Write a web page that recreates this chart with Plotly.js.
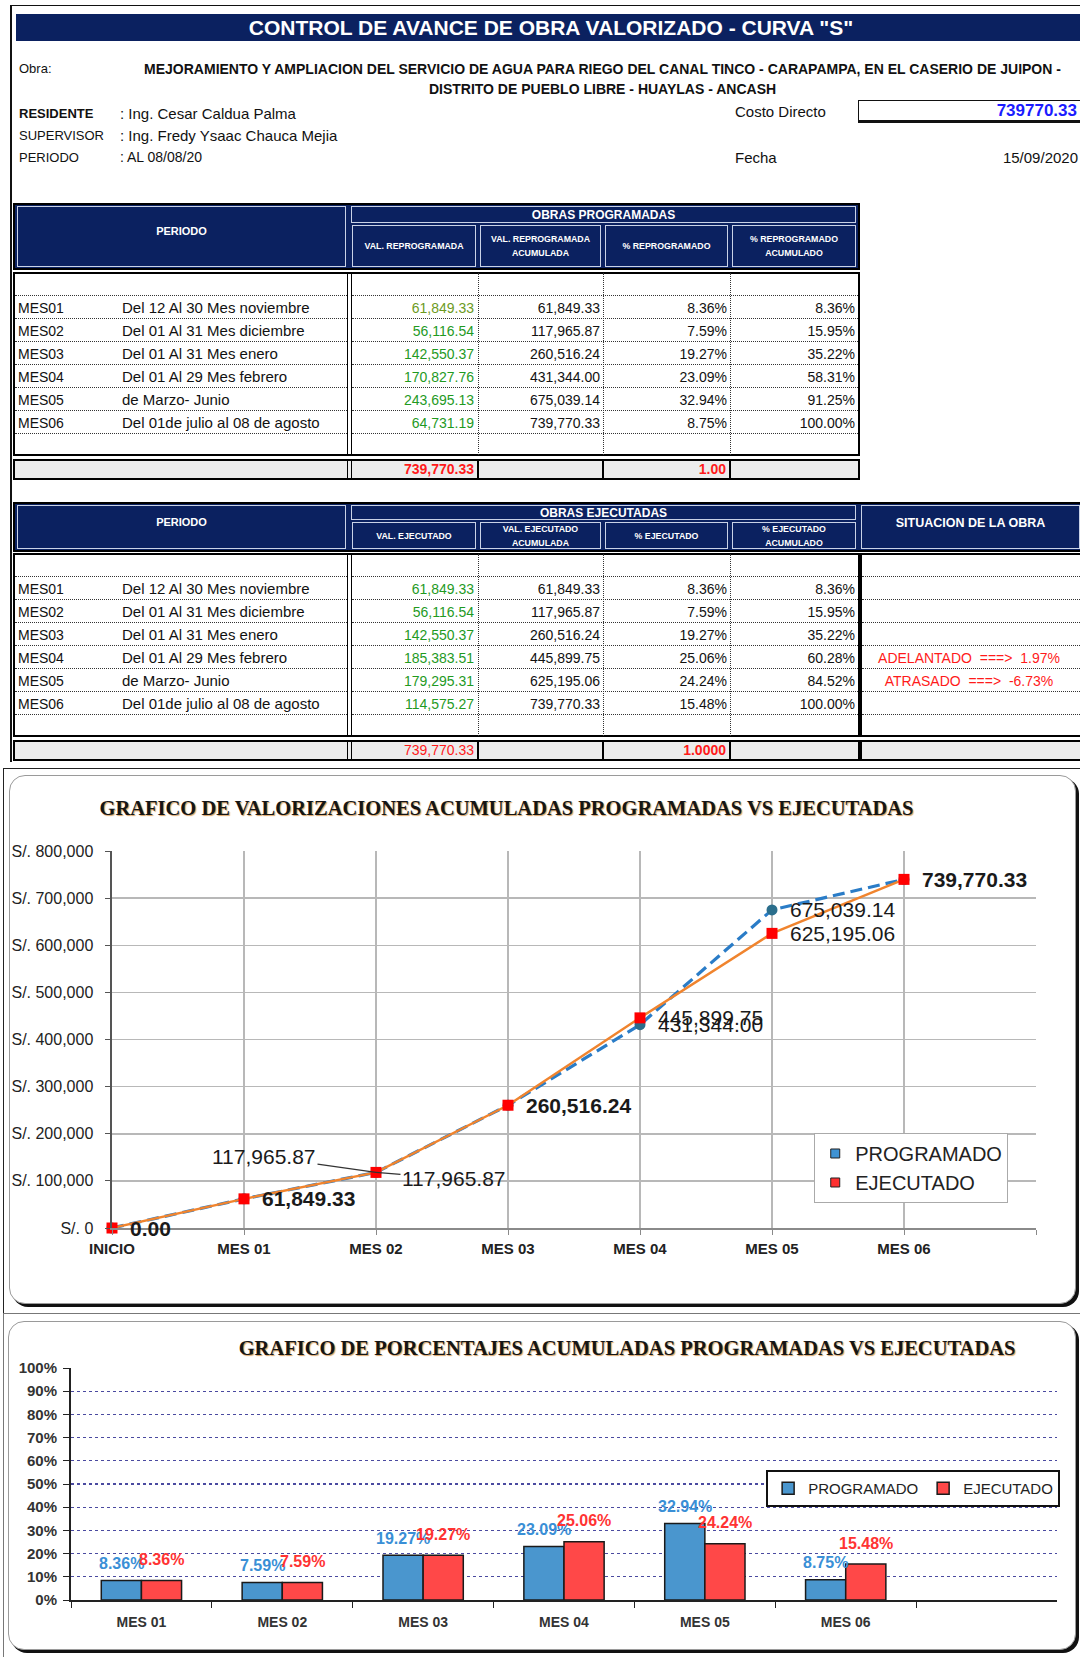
<!DOCTYPE html>
<html><head><meta charset="utf-8">
<script src="https://cdn.plot.ly/plotly-3.0.1.min.js"></script>
<style>
body{margin:0;width:1080px;height:1657px;position:relative;background:#fff;overflow:hidden;font-family:"Liberation Sans",Arial,sans-serif;color:#111;}
.a{position:absolute;box-sizing:border-box;white-space:nowrap;}
</style></head><body>
<div id="sheet"></div>
<div class="a" style="left:3px;top:768px;width:1080px;height:546px;border:1.5px solid #222;"></div>
<div class="a" style="left:9px;top:775px;width:1067px;height:529px;border:1.5px solid #9a9a9a;border-radius:16px;box-shadow:3px 3px 0 #111;background:#fff;"></div>
<div class="a" style="left:3px;top:1313px;width:1080px;height:350px;border:1.5px solid #777;"></div>
<div class="a" style="left:8px;top:1321px;width:1068px;height:329px;border:1.5px solid #9a9a9a;border-radius:16px;box-shadow:3px 3px 0 #111;background:#fff;"></div>
<div id="c1" class="a" style="left:0;top:770px;width:1080px;height:535px"></div>
<div id="c2" class="a" style="left:0;top:1315px;width:1080px;height:340px"></div>
<script>
// ---------------- DATA ----------------
const meses = ["MES01","MES02","MES03","MES04","MES05","MES06"];
const periodos = ["Del 12 Al 30 Mes noviembre","Del 01 Al 31 Mes diciembre","Del 01 Al 31 Mes enero","Del 01 Al 29 Mes febrero","de Marzo- Junio","Del 01de julio al 08 de agosto"];
const valProg = [61849.33, 56116.54, 142550.37, 170827.76, 243695.13, 64731.19];
const valProgAcum = [61849.33, 117965.87, 260516.24, 431344.00, 675039.14, 739770.33];
const pctProg = [8.36, 7.59, 19.27, 23.09, 32.94, 8.75];
const pctProgAcum = [8.36, 15.95, 35.22, 58.31, 91.25, 100.00];
const valEjec = [61849.33, 56116.54, 142550.37, 185383.51, 179295.31, 114575.27];
const valEjecAcum = [61849.33, 117965.87, 260516.24, 445899.75, 625195.06, 739770.33];
const pctEjec = [8.36, 7.59, 19.27, 25.06, 24.24, 15.48];
const pctEjecAcum = [8.36, 15.95, 35.22, 60.28, 84.52, 100.00];
const situacion = ["", "", "", "ADELANTADO  ===>  1.97%", "ATRASADO  ===>  -6.73%", ""];
const totalProg = "739,770.33", totalPctProg = "1.00", totalEjec = "739,770.33", totalPctEjec = "1.0000";
const costoDirecto = "739770.33", fecha = "15/09/2020";

const curveCats = ["INICIO","MES 01","MES 02","MES 03","MES 04","MES 05","MES 06"];
const curveProg = [0, 61849.33, 117965.87, 260516.24, 431344.00, 675039.14, 739770.33];
const curveEjec = [0, 61849.33, 117965.87, 260516.24, 445899.75, 625195.06, 739770.33];

const barCats = ["MES 01","MES 02","MES 03","MES 04","MES 05","MES 06"];
const barProg = [8.36, 7.59, 19.27, 23.09, 32.94, 8.75];
const barEjec = [8.36, 7.59, 19.27, 25.06, 24.24, 15.48];

// ---------------- SHEET (header + tables) ----------------
const NAVY = "#0b2160";
const sheet = document.getElementById('sheet');
function box(x,y,w,h,style,html){
  const d=document.createElement('div'); d.className='a';
  d.style.left=x+'px'; d.style.top=y+'px'; d.style.width=w+'px'; d.style.height=h+'px';
  Object.assign(d.style, style||{});
  if(html!=null) d.innerHTML=html;
  sheet.appendChild(d); return d;
}
const fmt = v => v.toLocaleString('en-US',{minimumFractionDigits:2,maximumFractionDigits:2});
const pf = v => v.toFixed(2)+'%';
const FN = '"Liberation Sans Narrow","Liberation Sans",Arial,sans-serif';

// outer frame
box(10,5,1075,757,{borderLeft:'2px solid #111',borderTop:'1.5px solid #111'});
// title bar
box(16,14,1070,27,{background:NAVY,color:'#fff',fontWeight:'bold',fontSize:'21px',textAlign:'center',lineHeight:'27px'},'CONTROL DE AVANCE DE OBRA VALORIZADO - CURVA "S"');
// info lines
const lab = {fontSize:'13px',fontFamily:FN};
box(19,61,60,18,Object.assign({},lab),'Obra:');
box(100,61,1005,18,{fontSize:'14px',fontWeight:'bold',textAlign:'center',fontFamily:FN},'MEJORAMIENTO Y AMPLIACION DEL SERVICIO DE AGUA PARA RIEGO DEL CANAL TINCO - CARAPAMPA, EN EL CASERIO DE JUIPON -');
box(100,81,1005,18,{fontSize:'14px',fontWeight:'bold',textAlign:'center',fontFamily:FN},'DISTRITO DE PUEBLO LIBRE - HUAYLAS - ANCASH');
box(19,106,100,18,{fontSize:'13px',fontWeight:'bold',fontFamily:FN},'RESIDENTE');
box(19,128,100,18,lab,'SUPERVISOR');
box(19,150,100,18,lab,'PERIODO');
box(120,105,320,18,{fontSize:'15px'},': Ing. Cesar Caldua Palma');
box(120,127,320,18,{fontSize:'15px'},': Ing. Fredy Ysaac Chauca Mejia');
box(120,149,320,18,{fontSize:'14px',fontFamily:FN},': AL 08/08/20');
box(735,103,140,18,{fontSize:'15px'},'Costo Directo');
box(858,100,230,23,{border:'1.5px solid #111',borderBottomWidth:'3px',color:'#1b1bff',fontWeight:'bold',fontSize:'17px',textAlign:'right',lineHeight:'19px',paddingRight:'10px'},costoDirecto);
box(735,149,120,18,{fontSize:'15px'},'Fecha');
box(930,149,148,18,{fontSize:'15px',textAlign:'right',fontFamily:FN},fecha);

const cols = [15, 350, 478, 603, 730, 858];
const hdrCell = {border:'1px solid #c9d2e6',color:'#fff',fontWeight:'bold',display:'flex',alignItems:'center',justifyContent:'center',textAlign:'center',whiteSpace:'normal'};

function header(top, split, bottom, group, subs, extra){
  const right = extra ? 1080 : cols[5];
  box(cols[0]-2, top, right-cols[0]+4, bottom-top, {background:NAVY,border:'2px solid #000'});
  box(cols[0]+2, top+3, cols[1]-cols[0]-6, bottom-top-6, Object.assign({},hdrCell,{fontSize:'11px',alignItems:'flex-start',paddingTop:(extra?10:18)+'px'}),'PERIODO');
  box(cols[1]+1, top+3, cols[5]-cols[1]-3, split-top-4, Object.assign({},hdrCell,{fontSize:'12px'}),group);
  for(let j=1;j<=4;j++){
    box(cols[j]+2, split+1, cols[j+1]-cols[j]-4, bottom-split-4, Object.assign({},hdrCell,{fontSize:'8.8px',lineHeight:'14px'}),subs[j-1]);
  }
  if(extra){
    box(cols[5]+3, top+3, 1080-cols[5]-3, bottom-top-6, Object.assign({},hdrCell,{fontSize:'12.5px',alignItems:'flex-start',paddingTop:'10px'}),extra);
  }
}

function body(top, rowH, vals, totals, extraCol){
  const nRows = vals.length + 2;
  const bh = nRows*rowH;
  box(cols[0]-2, top, cols[5]-cols[0]+4, bh, {border:'2px solid #000',background:'#fff'});
  if(extraCol) box(cols[5]+2, top, 1080-cols[5], bh, {border:'2px solid #000',background:'#fff'});
  box(cols[1]-3, top, 5, bh, {borderLeft:'1.5px solid #000',borderRight:'1.5px solid #000'});
  for(let j=2;j<=4;j++) box(cols[j], top+1, 1, bh-2, {borderLeft:'1.2px dotted #333'});
  for(let r=1;r<nRows;r++){
    box(cols[0], top+r*rowH, cols[1]-cols[0]-3, 1, {borderTop:'1.2px dotted #333'});
    box(cols[1]+2, top+r*rowH, cols[5]-cols[1]-2, 1, {borderTop:'1.2px dotted #333'});
    if(extraCol) box(cols[5]+4, top+r*rowH, 1080-cols[5]-4, 1, {borderTop:'1.2px dotted #333'});
  }
  vals.forEach((row,i)=>{
    const y = top+(i+1)*rowH;
    const cs = {fontSize:'14px',lineHeight:(rowH+3)+'px',fontFamily:FN};
    box(cols[0]+3, y, 90, rowH, cs, meses[i]);
    box(cols[0]+107, y, 235, rowH, Object.assign({},cs,{fontSize:'15px',fontFamily:'"Liberation Sans",Arial'}), periodos[i]);
    const green = (i===0 && !extraCol) ? '#6c9a1e' : '#1f9a1f';
    box(cols[1], y, cols[2]-cols[1]-4, rowH, Object.assign({},cs,{textAlign:'right',color:green}), fmt(row[0]));
    box(cols[2], y, cols[3]-cols[2]-3, rowH, Object.assign({},cs,{textAlign:'right'}), fmt(row[1]));
    box(cols[3], y, cols[4]-cols[3]-3, rowH, Object.assign({},cs,{textAlign:'right'}), pf(row[2]));
    box(cols[4], y, cols[5]-cols[4]-3, rowH, Object.assign({},cs,{textAlign:'right'}), pf(row[3]));
    if(extraCol && row[4]) box(cols[5]+4, y, 1080-cols[5]-8, rowH, Object.assign({},cs,{textAlign:'center',color:'#ff1a1a',whiteSpace:'pre',fontFamily:'"Liberation Sans",Arial'}), row[4]);
  });
  const ty = top+bh+3;
  const th = rowH-2;
  box(cols[0]-2, ty, cols[5]-cols[0]+4, th, {border:'2px solid #000',background:'#ececec'});
  if(extraCol) box(cols[5]+2, ty, 1080-cols[5], th, {border:'2px solid #000',background:'#ececec'});
  box(cols[1]-3, ty, 5, th, {borderLeft:'1.5px solid #000',borderRight:'1.5px solid #000'});
  for(let j=2;j<=4;j++) box(cols[j]-1, ty, 2, th, {background:'#000'});
  const ts = {fontSize:'14px',lineHeight:(th)+'px',color:'#ff1a1a',textAlign:'right',fontFamily:FN};
  box(cols[1], ty, cols[2]-cols[1]-4, th, Object.assign({},ts,{fontWeight:extraCol?'normal':'bold'}), totals[0]);
  box(cols[3], ty, cols[4]-cols[3]-4, th, Object.assign({},ts,{fontWeight:'bold'}), totals[1]);
}

header(203, 224, 270, 'OBRAS PROGRAMADAS',
  ['VAL. REPROGRAMADA','VAL. REPROGRAMADA<br>ACUMULADA','% REPROGRAMADO','% REPROGRAMADO<br>ACUMULADO'], null);
body(272, 23, valProg.map((v,i)=>[v,valProgAcum[i],pctProg[i],pctProgAcum[i]]), [totalProg,totalPctProg], false);

header(502, 521, 552, 'OBRAS EJECUTADAS',
  ['VAL. EJECUTADO','VAL. EJECUTADO<br>ACUMULADA','% EJECUTADO','% EJECUTADO<br>ACUMULADO'], 'SITUACION DE LA OBRA');
body(553, 23, valEjec.map((v,i)=>[v,valEjecAcum[i],pctEjec[i],pctEjecAcum[i],situacion[i]]), [totalEjec,totalPctEjec], true);

// ---------------- CHART 1: curva S ----------------
const cx = curveCats.map((c,i)=>i);
const ann1 = [];
const labFont = (b)=>({family:'Liberation Sans, Arial', size:21, color:'#1a1a1a', weight: b?'bold':'normal'});
cx.forEach(i=>{
  const p = curveProg[i], e = curveEjec[i];
  if(i===2){
    ann1.push({x:i,y:p,xref:'x',yref:'y',text:fmt(p),showarrow:true,arrowhead:0,arrowwidth:1.2,arrowcolor:'#333',ax:-112,ay:-16,standoff:0,font:labFont(false)});
    ann1.push({x:i,y:e,xref:'x',yref:'y',text:fmt(e),showarrow:true,arrowhead:0,arrowwidth:1.2,arrowcolor:'#333',ax:78,ay:6,standoff:0,font:labFont(false)});
  } else if(p===e){
    ann1.push({x:i,y:p,xref:'x',yref:'y',text:fmt(p),showarrow:false,xanchor:'left',yanchor:'middle',xshift:16,font:labFont(true)});
  } else {
    ann1.push({x:i,y:p,xref:'x',yref:'y',text:fmt(p),showarrow:false,xanchor:'left',yanchor:'middle',xshift:16,font:labFont(false)});
    ann1.push({x:i,y:e,xref:'x',yref:'y',text:fmt(e),showarrow:false,xanchor:'left',yanchor:'middle',xshift:16,font:labFont(false)});
  }
});

const t1 = [
  {type:'scatter',mode:'lines+markers',name:'PROGRAMADO',x:cx,y:curveProg,showlegend:false,cliponaxis:false,
   line:{color:'#2a7cc7',width:3.2,dash:'12px,6px'},marker:{symbol:'circle',size:11,color:'#2b6e8c'}},
  {type:'scatter',mode:'lines+markers',name:'EJECUTADO',x:cx,y:curveEjec,showlegend:false,cliponaxis:false,
   line:{color:'#f0842e',width:2.4},marker:{symbol:'square',size:11,color:'#ff0000'}},
  {type:'scatter',mode:'markers',name:'PROGRAMADO',x:[null],y:[null],showlegend:true,
   marker:{symbol:'square',size:9,color:'#3f93d4',line:{color:'#222',width:1}}},
  {type:'scatter',mode:'markers',name:'EJECUTADO',x:[null],y:[null],showlegend:true,
   marker:{symbol:'square',size:9,color:'#ff3030',line:{color:'#222',width:1}}}
];
const l1 = {
  width:1080,height:535,margin:{l:112,r:44,t:81,b:77},
  paper_bgcolor:'rgba(0,0,0,0)',plot_bgcolor:'#fff',
  title:{text:'GRAFICO DE VALORIZACIONES ACUMULADAS PROGRAMADAS VS EJECUTADAS',x:0.469,xanchor:'center',y:0.929,yanchor:'middle',yref:'container',
    font:{family:'Liberation Serif, Times New Roman, serif',size:20.5,color:'#151515',weight:'bold',shadow:'1px 1px 1px #d8a060'}},
  xaxis:{range:[0,7],tickvals:[0,1,2,3,4,5,6,7],ticktext:curveCats.concat(['']),showgrid:true,gridcolor:'#b8b8b8',gridwidth:1.5,
    showline:true,linecolor:'#8a8a8a',linewidth:2,ticks:'outside',ticklen:5,tickcolor:'#8a8a8a',zeroline:false,ticklabelstandoff:1,
    tickfont:{family:'Liberation Sans, Arial',size:15,color:'#222',weight:'bold'}},
  yaxis:{range:[0,800000],dtick:100000,tickprefix:'S/. ',tickformat:',',showgrid:true,gridcolor:'#b8b8b8',gridwidth:1.5,
    showline:true,linecolor:'#555',linewidth:2.5,ticks:'outside',ticklen:5,tickcolor:'#555',zeroline:false,ticklabelstandoff:8,
    tickfont:{family:'Liberation Sans, Arial',size:16,color:'#222'}},
  legend:{x:0.76,y:0.252,xanchor:'left',yanchor:'top',bgcolor:'#fff',bordercolor:'#aaa',borderwidth:1,
    font:{family:'Liberation Sans, Arial',size:20,color:'#222'},itemwidth:30},
  annotations:ann1,
  showlegend:true
};
Plotly.newPlot('c1',t1,l1,{staticPlot:true});

// ---------------- CHART 2: porcentajes ----------------
const ann2 = [];
barCats.forEach((c,i)=>{
  ann2.push({x:c,y:barProg[i],xref:'x',yref:'y',text:pf(barProg[i]),showarrow:false,xanchor:'center',yanchor:'middle',xshift:-20,yshift:17,
    font:{family:'Liberation Sans, Arial',size:16,color:'#3a8fd6',weight:'bold'}});
  ann2.push({x:c,y:barEjec[i],xref:'x',yref:'y',text:pf(barEjec[i]),showarrow:false,xanchor:'center',yanchor:'middle',xshift:20,yshift:21,
    font:{family:'Liberation Sans, Arial',size:16,color:'#ff3333',weight:'bold'}});
});
const t2 = [
  {type:'bar',name:'PROGRAMADO',x:barCats,y:barProg,marker:{color:'#4a96ce',line:{color:'#1a1a1a',width:1.5}}},
  {type:'bar',name:'EJECUTADO',x:barCats,y:barEjec,marker:{color:'#ff4848',line:{color:'#1a1a1a',width:1.5}}}
];
const l2 = {
  width:1080,height:340,margin:{l:71,r:23,t:53,b:55,autoexpand:false},
  paper_bgcolor:'rgba(0,0,0,0)',plot_bgcolor:'#fff',
  barmode:'group',bargap:0.43,bargroupgap:0,
  title:{text:'GRAFICO DE PORCENTAJES ACUMULADAS PROGRAMADAS VS EJECUTADAS',x:0.5806,xanchor:'center',y:0.903,yanchor:'middle',yref:'container',
    font:{family:'Liberation Serif, Times New Roman, serif',size:20.5,color:'#151515',weight:'bold',shadow:'1px 1px 1px #d8a060'}},
  xaxis:{type:'category',range:[-0.5,6.5],showline:true,linecolor:'#222',linewidth:2,ticks:'outside',tickson:'boundaries',ticklen:6,tickcolor:'#222',
    showgrid:false,ticklabelstandoff:8,tickfont:{family:'Liberation Sans, Arial',size:14,color:'#333',weight:'bold'}},
  yaxis:{range:[0,100],dtick:10,ticksuffix:'%',showgrid:true,gridcolor:'#4a4aa0',griddash:'dot',gridwidth:1.3,
    showline:true,linecolor:'#222',linewidth:2,ticks:'outside',ticklen:6,tickcolor:'#222',zeroline:false,ticklabelstandoff:3,
    tickfont:{family:'Liberation Sans, Arial',size:15,color:'#333',weight:'bold'}},
  legend:{orientation:'h',x:0.705,y:0.56,xanchor:'left',yanchor:'top',bgcolor:'#fff',bordercolor:'#111',borderwidth:2,
    font:{family:'Liberation Sans, Arial',size:15,color:'#222'},itemwidth:30},
  annotations:ann2,
  showlegend:true
};
Plotly.newPlot('c2',t2,l2,{staticPlot:true});
</script>
</body></html>
